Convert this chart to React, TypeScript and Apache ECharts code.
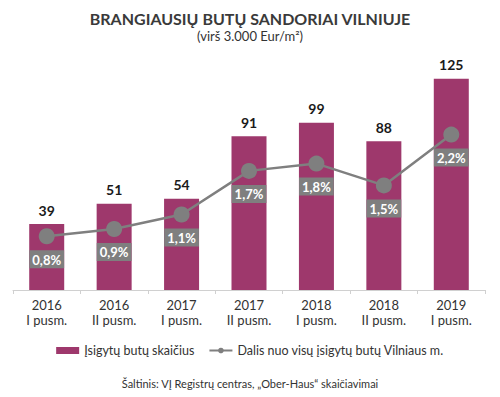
import React, { useEffect, useRef } from "react";
import * as echarts from "echarts";

const categories = ["2016\nI pusm.", "2016\nII pusm.", "2017\nI pusm.", "2017\nII pusm.", "2018\nI pusm.", "2018\nII pusm.", "2019\nI pusm."];
const dealsCount = [39, 51, 54, 91, 99, 88, 125];
const sharePct = [0.8, 0.9, 1.1, 1.7, 1.8, 1.5, 2.2];
const barName = "Įsigytų butų skaičius";
const lineName = "Dalis nuo visų įsigytų butų Vilniaus m.";

const FONT = "Lato, 'Open Sans', sans-serif";

export default function App() {
  const ref = useRef<HTMLDivElement>(null);
  useEffect(() => {
    if (!ref.current) return;
    const chart = echarts.init(ref.current, null, { renderer: "svg" });
    chart.setOption({
      animation: false,
      textStyle: { fontFamily: FONT },
      title: [
        {
          text: "BRANGIAUSIŲ BUTŲ SANDORIAI VILNIUJE",
          subtext: "(virš 3.000 Eur/m²)",
          left: "center",
          top: 5,
          itemGap: 3,
          textStyle: { fontFamily: FONT, fontSize: 16, fontWeight: "bold", color: "#3a3a3a" },
          subtextStyle: { fontFamily: FONT, fontSize: 13, color: "#333" },
        },
        {
          text: "Šaltinis: VĮ Registrų centras, „Ober-Haus“ skaičiavimai",
          left: "center",
          top: 373,
          textStyle: { fontFamily: FONT, fontSize: 11, fontWeight: "normal", color: "#333" },
        },
      ],
      legend: {
        top: 339,
        left: "center",
        itemGap: 14,
        itemWidth: 23,
        itemHeight: 7,
        textStyle: { fontFamily: FONT, fontSize: 12.5, color: "#333" },
        data: [
          { name: barName, icon: "rect" },
          { name: lineName },
        ],
      },
      grid: { left: 13, right: 15, top: 36.5, bottom: 107 },
      xAxis: {
        type: "category",
        data: categories,
        axisLine: { lineStyle: { color: "#d0d0d0" } },
        axisTick: { show: true, length: 4, lineStyle: { color: "#d0d0d0" } },
        axisLabel: { color: "#333", fontSize: 13, lineHeight: 15, margin: 7, fontFamily: FONT },
      },
      yAxis: [
        { type: "value", min: 0, max: 150, show: false, splitLine: { show: false } },
        { type: "value", min: 0.06, max: 3.55, show: false, splitLine: { show: false } },
      ],
      series: [
        {
          name: barName,
          type: "bar",
          data: dealsCount,
          barWidth: 35,
          itemStyle: { color: "#9e386c" },
          label: {
            show: true,
            position: "top",
            distance: 7,
            color: "#1a1a1a",
            fontWeight: "bold",
            fontSize: 14,
            fontFamily: FONT,
          },
        },
        {
          name: lineName,
          type: "line",
          yAxisIndex: 1,
          data: sharePct,
          symbol: "circle",
          symbolSize: 16,
          lineStyle: { color: "#7f7f7f", width: 2.5 },
          itemStyle: { color: "#7f7f7f" },
          label: {
            show: true,
            position: "bottom",
            distance: 6,
            formatter: (p: any) => p.value.toFixed(1).replace(".", ",") + "%",
            color: "#fff",
            fontWeight: "bold",
            fontSize: 13,
            fontFamily: FONT,
            backgroundColor: "#7f7f7f",
            padding: [3, 3, 2, 3],
          },
        },
      ],
    });
    return () => chart.dispose();
  }, []);
  return <div ref={ref} style={{ width: 500, height: 397, position: "absolute", left: 0, top: 0 }} />;
}
